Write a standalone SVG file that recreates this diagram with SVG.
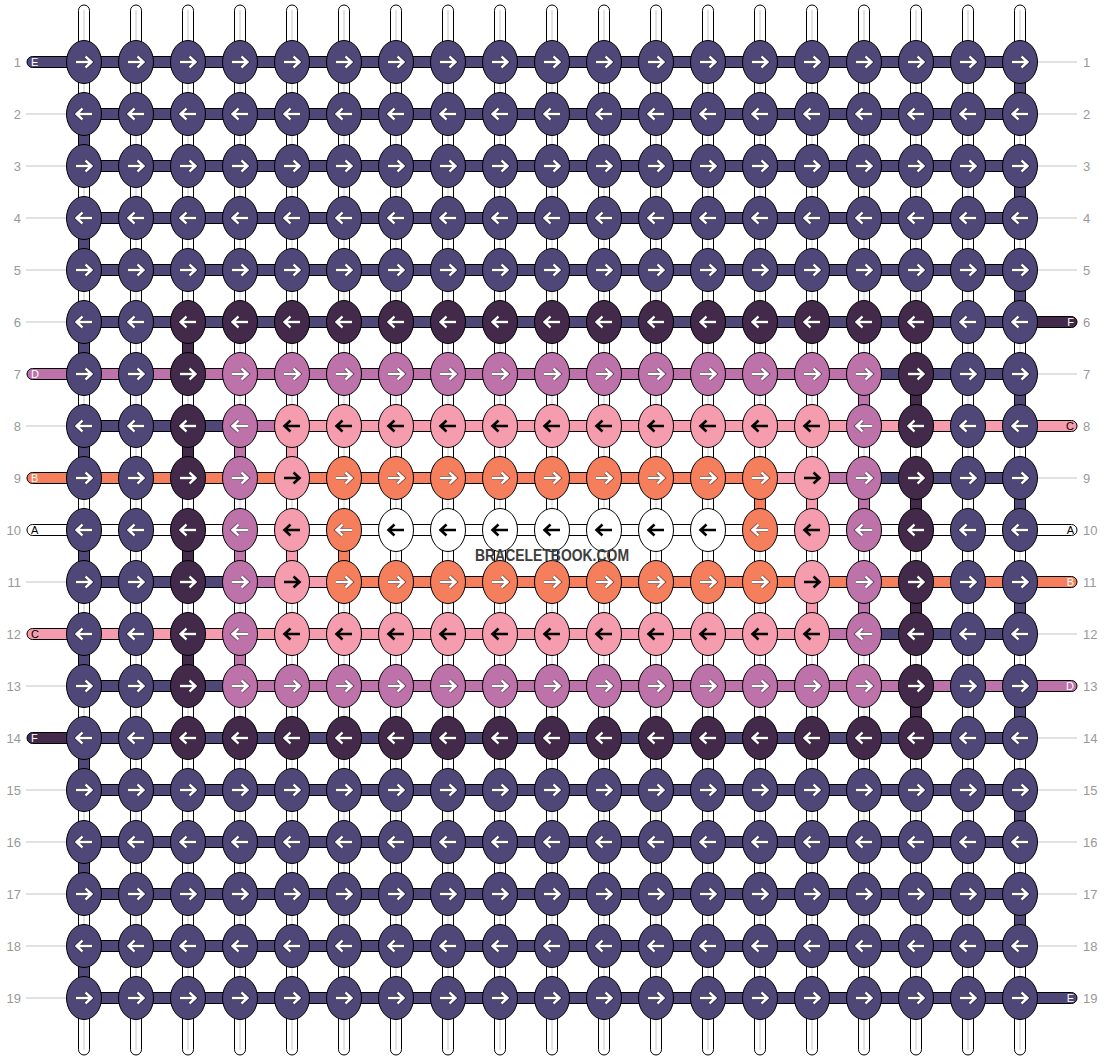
<svg xmlns="http://www.w3.org/2000/svg" xmlns:xlink="http://www.w3.org/1999/xlink" width="1104" height="1060" viewBox="0 0 1104 1060">
<style>
.bg{fill:#fff}
.st{fill:#fff;stroke:#000;stroke-width:1}
.cl{stroke:#c8c8c8;stroke-width:1}
.gl{stroke:#c4c4c4;stroke-width:1}
.b{stroke:#000;stroke-width:1}
.M{fill:#4f4778}.P{fill:#43294a}.V{fill:#bd72aa}.K{fill:#f59dae}.O{fill:#f57f5d}.W{fill:#fff}
.num{font-family:"Liberation Sans",Arial,sans-serif;font-size:13px;fill:#999}
.tl{font-family:"Liberation Sans",Arial,sans-serif;font-size:11px}
.tw{fill:#fff}.tb{fill:#000}
.wm{font-family:"Liberation Sans",Arial,sans-serif;font-size:16.5px;font-weight:bold;fill:#3d3d3d}
</style>
<defs>
<path id="pr" d="M-8,0H6.5M1.5,-5.5L7.5,0L1.5,5.5" fill="none"/>
<path id="pl" d="M8,0H-6.5M-1.5,-5.5L-7.5,0L-1.5,5.5" fill="none"/>
<g id="wr"><use href="#pr" stroke="#000" stroke-opacity=".45" stroke-width="4.2"/><use href="#pr" stroke="#fff" stroke-width="2.4"/></g>
<g id="wl"><use href="#pl" stroke="#000" stroke-opacity=".45" stroke-width="4.2"/><use href="#pl" stroke="#fff" stroke-width="2.4"/></g>
<g id="br"><use href="#pr" stroke="#000" stroke-width="2.6"/></g>
<g id="bl"><use href="#pl" stroke="#000" stroke-width="2.6"/></g>
<g id="MR"><ellipse rx="17.5" ry="21.5" fill="#4f4778" stroke="#000"/><use href="#wr"/></g>
<g id="ML"><ellipse rx="17.5" ry="21.5" fill="#4f4778" stroke="#000"/><use href="#wl"/></g>
<g id="PR"><ellipse rx="17.5" ry="21.5" fill="#43294a" stroke="#000"/><use href="#wr"/></g>
<g id="PL"><ellipse rx="17.5" ry="21.5" fill="#43294a" stroke="#000"/><use href="#wl"/></g>
<g id="VR"><ellipse rx="17.5" ry="21.5" fill="#bd72aa" stroke="#000"/><use href="#wr"/></g>
<g id="VL"><ellipse rx="17.5" ry="21.5" fill="#bd72aa" stroke="#000"/><use href="#wl"/></g>
<g id="KR"><ellipse rx="17.5" ry="21.5" fill="#f59dae" stroke="#000"/><use href="#br"/></g>
<g id="KL"><ellipse rx="17.5" ry="21.5" fill="#f59dae" stroke="#000"/><use href="#bl"/></g>
<g id="OR"><ellipse rx="17.5" ry="21.5" fill="#f57f5d" stroke="#000"/><use href="#wr"/></g>
<g id="OL"><ellipse rx="17.5" ry="21.5" fill="#f57f5d" stroke="#000"/><use href="#wl"/></g>
<g id="WL"><ellipse rx="17.5" ry="21.5" fill="#fff" stroke="#000"/><use href="#bl"/></g>
</defs>
<rect class="bg" x="0" y="0" width="1104" height="1060"/>

<g id="labels">
<g class="gl">
<line x1="26" y1="114" x2="67" y2="114"/><line x1="26" y1="166" x2="67" y2="166"/><line x1="26" y1="218" x2="67" y2="218"/><line x1="26" y1="270" x2="67" y2="270"/><line x1="26" y1="322" x2="67" y2="322"/><line x1="26" y1="426" x2="67" y2="426"/><line x1="26" y1="582" x2="67" y2="582"/><line x1="26" y1="686" x2="67" y2="686"/><line x1="26" y1="790" x2="67" y2="790"/><line x1="26" y1="842" x2="67" y2="842"/><line x1="26" y1="894" x2="67" y2="894"/><line x1="26" y1="946" x2="67" y2="946"/><line x1="26" y1="998" x2="67" y2="998"/>
<line x1="1037" y1="62" x2="1077" y2="62"/><line x1="1037" y1="114" x2="1077" y2="114"/><line x1="1037" y1="166" x2="1077" y2="166"/><line x1="1037" y1="218" x2="1077" y2="218"/><line x1="1037" y1="270" x2="1077" y2="270"/><line x1="1037" y1="374" x2="1077" y2="374"/><line x1="1037" y1="478" x2="1077" y2="478"/><line x1="1037" y1="634" x2="1077" y2="634"/><line x1="1037" y1="738" x2="1077" y2="738"/><line x1="1037" y1="790" x2="1077" y2="790"/><line x1="1037" y1="842" x2="1077" y2="842"/><line x1="1037" y1="894" x2="1077" y2="894"/><line x1="1037" y1="946" x2="1077" y2="946"/>
</g>
<g class="num" text-anchor="end">
<text x="21" y="66.5">1</text><text x="21" y="118.5">2</text><text x="21" y="170.5">3</text><text x="21" y="222.5">4</text><text x="21" y="274.5">5</text><text x="21" y="326.5">6</text><text x="21" y="378.5">7</text><text x="21" y="430.5">8</text><text x="21" y="482.5">9</text><text x="21" y="534.5">10</text><text x="21" y="586.5">11</text><text x="21" y="638.5">12</text><text x="21" y="690.5">13</text><text x="21" y="742.5">14</text><text x="21" y="794.5">15</text><text x="21" y="846.5">16</text><text x="21" y="898.5">17</text><text x="21" y="950.5">18</text><text x="21" y="1002.5">19</text>
</g>
<g class="num">
<text x="1083" y="66.5">1</text><text x="1083" y="118.5">2</text><text x="1083" y="170.5">3</text><text x="1083" y="222.5">4</text><text x="1083" y="274.5">5</text><text x="1083" y="326.5">6</text><text x="1083" y="378.5">7</text><text x="1083" y="430.5">8</text><text x="1083" y="482.5">9</text><text x="1083" y="534.5">10</text><text x="1083" y="586.5">11</text><text x="1083" y="638.5">12</text><text x="1083" y="690.5">13</text><text x="1083" y="742.5">14</text><text x="1083" y="794.5">15</text><text x="1083" y="846.5">16</text><text x="1083" y="898.5">17</text><text x="1083" y="950.5">18</text><text x="1083" y="1002.5">19</text>
</g>
</g>

<g id="connectors">
<g id="base-strings">
<rect class="st" x="78.5" y="5" width="11" height="1050" rx="5.5"/><rect class="st" x="130.5" y="5" width="11" height="1050" rx="5.5"/><rect class="st" x="182.5" y="5" width="11" height="1050" rx="5.5"/><rect class="st" x="234.5" y="5" width="11" height="1050" rx="5.5"/><rect class="st" x="286.5" y="5" width="11" height="1050" rx="5.5"/><rect class="st" x="338.5" y="5" width="11" height="1050" rx="5.5"/><rect class="st" x="390.5" y="5" width="11" height="1050" rx="5.5"/><rect class="st" x="442.5" y="5" width="11" height="1050" rx="5.5"/><rect class="st" x="494.5" y="5" width="11" height="1050" rx="5.5"/><rect class="st" x="546.5" y="5" width="11" height="1050" rx="5.5"/><rect class="st" x="598.5" y="5" width="11" height="1050" rx="5.5"/><rect class="st" x="650.5" y="5" width="11" height="1050" rx="5.5"/><rect class="st" x="702.5" y="5" width="11" height="1050" rx="5.5"/><rect class="st" x="754.5" y="5" width="11" height="1050" rx="5.5"/><rect class="st" x="806.5" y="5" width="11" height="1050" rx="5.5"/><rect class="st" x="858.5" y="5" width="11" height="1050" rx="5.5"/><rect class="st" x="910.5" y="5" width="11" height="1050" rx="5.5"/><rect class="st" x="962.5" y="5" width="11" height="1050" rx="5.5"/><rect class="st" x="1014.5" y="5" width="11" height="1050" rx="5.5"/>
<g class="cl">
<line x1="84" y1="10" x2="84" y2="1050"/><line x1="136" y1="10" x2="136" y2="1050"/><line x1="188" y1="10" x2="188" y2="1050"/><line x1="240" y1="10" x2="240" y2="1050"/><line x1="292" y1="10" x2="292" y2="1050"/><line x1="344" y1="10" x2="344" y2="1050"/><line x1="396" y1="10" x2="396" y2="1050"/><line x1="448" y1="10" x2="448" y2="1050"/><line x1="500" y1="10" x2="500" y2="1050"/><line x1="552" y1="10" x2="552" y2="1050"/><line x1="604" y1="10" x2="604" y2="1050"/><line x1="656" y1="10" x2="656" y2="1050"/><line x1="708" y1="10" x2="708" y2="1050"/><line x1="760" y1="10" x2="760" y2="1050"/><line x1="812" y1="10" x2="812" y2="1050"/><line x1="864" y1="10" x2="864" y2="1050"/><line x1="916" y1="10" x2="916" y2="1050"/><line x1="968" y1="10" x2="968" y2="1050"/><line x1="1020" y1="10" x2="1020" y2="1050"/>
</g>
</g>
<g id="vertical-links" class="b">
<rect class="M" x="78.5" y="124" width="11" height="32"/><rect class="M" x="78.5" y="228" width="11" height="32"/><rect class="M" x="78.5" y="332" width="11" height="32"/><rect class="M" x="78.5" y="436" width="11" height="32"/><rect class="M" x="78.5" y="540" width="11" height="32"/><rect class="M" x="78.5" y="644" width="11" height="32"/><rect class="M" x="78.5" y="748" width="11" height="32"/><rect class="M" x="78.5" y="852" width="11" height="32"/><rect class="M" x="78.5" y="956" width="11" height="32"/>
<rect class="M" x="1014.5" y="72" width="11" height="32"/><rect class="M" x="1014.5" y="176" width="11" height="32"/><rect class="M" x="1014.5" y="280" width="11" height="32"/><rect class="M" x="1014.5" y="384" width="11" height="32"/><rect class="M" x="1014.5" y="488" width="11" height="32"/><rect class="M" x="1014.5" y="592" width="11" height="32"/><rect class="M" x="1014.5" y="696" width="11" height="32"/><rect class="M" x="1014.5" y="800" width="11" height="32"/><rect class="M" x="1014.5" y="904" width="11" height="32"/>
<rect class="P" x="182.5" y="332" width="11" height="32"/>
<rect class="V" x="858.5" y="384" width="11" height="32"/><rect class="P" x="910.5" y="384" width="11" height="32"/>
<rect class="P" x="182.5" y="436" width="11" height="32"/><rect class="V" x="234.5" y="436" width="11" height="32"/><rect class="K" x="286.5" y="436" width="11" height="32"/>
<rect class="O" x="754.5" y="488" width="11" height="32"/><rect class="K" x="806.5" y="488" width="11" height="32"/><rect class="V" x="858.5" y="488" width="11" height="32"/><rect class="P" x="910.5" y="488" width="11" height="32"/>
<rect class="P" x="182.5" y="540" width="11" height="32"/><rect class="V" x="234.5" y="540" width="11" height="32"/><rect class="K" x="286.5" y="540" width="11" height="32"/><rect class="O" x="338.5" y="540" width="11" height="32"/>
<rect class="K" x="806.5" y="592" width="11" height="32"/><rect class="V" x="858.5" y="592" width="11" height="32"/><rect class="P" x="910.5" y="592" width="11" height="32"/>
<rect class="P" x="182.5" y="644" width="11" height="32"/><rect class="V" x="234.5" y="644" width="11" height="32"/>
<rect class="P" x="910.5" y="696" width="11" height="32"/>
</g>
<g id="horizontal-links" class="b">
<rect class="M" x="27" y="56.5" width="993" height="11" rx="5.5"/>
<rect class="M" x="84" y="108.5" width="936" height="11" rx="5.5"/>
<rect class="M" x="84" y="160.5" width="936" height="11" rx="5.5"/>
<rect class="M" x="84" y="212.5" width="936" height="11" rx="5.5"/>
<rect class="M" x="84" y="264.5" width="936" height="11" rx="5.5"/>
<rect class="P" x="1000" y="316.5" width="77" height="11" rx="5.5"/><rect class="M" x="84" y="316.5" width="936" height="11" rx="5.5"/>
<rect class="V" x="27" y="368.5" width="837" height="11" rx="5.5"/><rect class="M" x="864" y="368.5" width="156" height="11" rx="5.5"/>
<rect class="M" x="84" y="420.5" width="156" height="11" rx="5.5"/><rect class="V" x="240" y="420.5" width="52" height="11" rx="5.5"/><rect class="K" x="292" y="420.5" width="785" height="11" rx="5.5"/>
<rect class="O" x="27" y="472.5" width="733" height="11" rx="5.5"/><rect class="K" x="760" y="472.5" width="52" height="11" rx="5.5"/><rect class="V" x="812" y="472.5" width="52" height="11" rx="5.5"/><rect class="M" x="864" y="472.5" width="156" height="11" rx="5.5"/>
<rect class="W" x="27" y="524.5" width="1050" height="11" rx="5.5"/>
<rect class="M" x="84" y="576.5" width="156" height="11" rx="5.5"/><rect class="V" x="240" y="576.5" width="52" height="11" rx="5.5"/><rect class="K" x="292" y="576.5" width="52" height="11" rx="5.5"/><rect class="O" x="344" y="576.5" width="733" height="11" rx="5.5"/>
<rect class="K" x="27" y="628.5" width="785" height="11" rx="5.5"/><rect class="V" x="812" y="628.5" width="52" height="11" rx="5.5"/><rect class="M" x="864" y="628.5" width="156" height="11" rx="5.5"/>
<rect class="M" x="84" y="680.5" width="156" height="11" rx="5.5"/><rect class="V" x="240" y="680.5" width="837" height="11" rx="5.5"/>
<rect class="P" x="27" y="732.5" width="77" height="11" rx="5.5"/><rect class="M" x="84" y="732.5" width="936" height="11" rx="5.5"/>
<rect class="M" x="84" y="784.5" width="936" height="11" rx="5.5"/>
<rect class="M" x="84" y="836.5" width="936" height="11" rx="5.5"/>
<rect class="M" x="84" y="888.5" width="936" height="11" rx="5.5"/>
<rect class="M" x="84" y="940.5" width="936" height="11" rx="5.5"/>
<rect class="M" x="84" y="992.5" width="993" height="11" rx="5.5"/>
</g>
<g id="tail-labels" class="tl">
<text class="tw" x="31" y="66">E</text><text class="tw" x="31" y="378">D</text><text class="tw" x="31" y="482">B</text><text class="tb" x="31" y="534">A</text><text class="tb" x="31" y="638">C</text><text class="tw" x="31" y="742">F</text>
<g text-anchor="end"><text class="tw" x="1074" y="326">F</text><text class="tb" x="1074" y="430">C</text><text class="tb" x="1074" y="534">A</text><text class="tw" x="1074" y="586">B</text><text class="tw" x="1074" y="690">D</text><text class="tw" x="1074" y="1002">E</text></g>
</g>
</g>

<g id="knots">
<g id="k1-1"><use href="#MR" x="84" y="62"/></g><g id="k1-2"><use href="#MR" x="136" y="62"/></g><g id="k1-3"><use href="#MR" x="188" y="62"/></g><g id="k1-4"><use href="#MR" x="240" y="62"/></g><g id="k1-5"><use href="#MR" x="292" y="62"/></g><g id="k1-6"><use href="#MR" x="344" y="62"/></g><g id="k1-7"><use href="#MR" x="396" y="62"/></g><g id="k1-8"><use href="#MR" x="448" y="62"/></g><g id="k1-9"><use href="#MR" x="500" y="62"/></g><g id="k1-10"><use href="#MR" x="552" y="62"/></g><g id="k1-11"><use href="#MR" x="604" y="62"/></g><g id="k1-12"><use href="#MR" x="656" y="62"/></g><g id="k1-13"><use href="#MR" x="708" y="62"/></g><g id="k1-14"><use href="#MR" x="760" y="62"/></g><g id="k1-15"><use href="#MR" x="812" y="62"/></g><g id="k1-16"><use href="#MR" x="864" y="62"/></g><g id="k1-17"><use href="#MR" x="916" y="62"/></g><g id="k1-18"><use href="#MR" x="968" y="62"/></g><g id="k1-19"><use href="#MR" x="1020" y="62"/></g>
<g id="k2-1"><use href="#ML" x="84" y="114"/></g><g id="k2-2"><use href="#ML" x="136" y="114"/></g><g id="k2-3"><use href="#ML" x="188" y="114"/></g><g id="k2-4"><use href="#ML" x="240" y="114"/></g><g id="k2-5"><use href="#ML" x="292" y="114"/></g><g id="k2-6"><use href="#ML" x="344" y="114"/></g><g id="k2-7"><use href="#ML" x="396" y="114"/></g><g id="k2-8"><use href="#ML" x="448" y="114"/></g><g id="k2-9"><use href="#ML" x="500" y="114"/></g><g id="k2-10"><use href="#ML" x="552" y="114"/></g><g id="k2-11"><use href="#ML" x="604" y="114"/></g><g id="k2-12"><use href="#ML" x="656" y="114"/></g><g id="k2-13"><use href="#ML" x="708" y="114"/></g><g id="k2-14"><use href="#ML" x="760" y="114"/></g><g id="k2-15"><use href="#ML" x="812" y="114"/></g><g id="k2-16"><use href="#ML" x="864" y="114"/></g><g id="k2-17"><use href="#ML" x="916" y="114"/></g><g id="k2-18"><use href="#ML" x="968" y="114"/></g><g id="k2-19"><use href="#ML" x="1020" y="114"/></g>
<g id="k3-1"><use href="#MR" x="84" y="166"/></g><g id="k3-2"><use href="#MR" x="136" y="166"/></g><g id="k3-3"><use href="#MR" x="188" y="166"/></g><g id="k3-4"><use href="#MR" x="240" y="166"/></g><g id="k3-5"><use href="#MR" x="292" y="166"/></g><g id="k3-6"><use href="#MR" x="344" y="166"/></g><g id="k3-7"><use href="#MR" x="396" y="166"/></g><g id="k3-8"><use href="#MR" x="448" y="166"/></g><g id="k3-9"><use href="#MR" x="500" y="166"/></g><g id="k3-10"><use href="#MR" x="552" y="166"/></g><g id="k3-11"><use href="#MR" x="604" y="166"/></g><g id="k3-12"><use href="#MR" x="656" y="166"/></g><g id="k3-13"><use href="#MR" x="708" y="166"/></g><g id="k3-14"><use href="#MR" x="760" y="166"/></g><g id="k3-15"><use href="#MR" x="812" y="166"/></g><g id="k3-16"><use href="#MR" x="864" y="166"/></g><g id="k3-17"><use href="#MR" x="916" y="166"/></g><g id="k3-18"><use href="#MR" x="968" y="166"/></g><g id="k3-19"><use href="#MR" x="1020" y="166"/></g>
<g id="k4-1"><use href="#ML" x="84" y="218"/></g><g id="k4-2"><use href="#ML" x="136" y="218"/></g><g id="k4-3"><use href="#ML" x="188" y="218"/></g><g id="k4-4"><use href="#ML" x="240" y="218"/></g><g id="k4-5"><use href="#ML" x="292" y="218"/></g><g id="k4-6"><use href="#ML" x="344" y="218"/></g><g id="k4-7"><use href="#ML" x="396" y="218"/></g><g id="k4-8"><use href="#ML" x="448" y="218"/></g><g id="k4-9"><use href="#ML" x="500" y="218"/></g><g id="k4-10"><use href="#ML" x="552" y="218"/></g><g id="k4-11"><use href="#ML" x="604" y="218"/></g><g id="k4-12"><use href="#ML" x="656" y="218"/></g><g id="k4-13"><use href="#ML" x="708" y="218"/></g><g id="k4-14"><use href="#ML" x="760" y="218"/></g><g id="k4-15"><use href="#ML" x="812" y="218"/></g><g id="k4-16"><use href="#ML" x="864" y="218"/></g><g id="k4-17"><use href="#ML" x="916" y="218"/></g><g id="k4-18"><use href="#ML" x="968" y="218"/></g><g id="k4-19"><use href="#ML" x="1020" y="218"/></g>
<g id="k5-1"><use href="#MR" x="84" y="270"/></g><g id="k5-2"><use href="#MR" x="136" y="270"/></g><g id="k5-3"><use href="#MR" x="188" y="270"/></g><g id="k5-4"><use href="#MR" x="240" y="270"/></g><g id="k5-5"><use href="#MR" x="292" y="270"/></g><g id="k5-6"><use href="#MR" x="344" y="270"/></g><g id="k5-7"><use href="#MR" x="396" y="270"/></g><g id="k5-8"><use href="#MR" x="448" y="270"/></g><g id="k5-9"><use href="#MR" x="500" y="270"/></g><g id="k5-10"><use href="#MR" x="552" y="270"/></g><g id="k5-11"><use href="#MR" x="604" y="270"/></g><g id="k5-12"><use href="#MR" x="656" y="270"/></g><g id="k5-13"><use href="#MR" x="708" y="270"/></g><g id="k5-14"><use href="#MR" x="760" y="270"/></g><g id="k5-15"><use href="#MR" x="812" y="270"/></g><g id="k5-16"><use href="#MR" x="864" y="270"/></g><g id="k5-17"><use href="#MR" x="916" y="270"/></g><g id="k5-18"><use href="#MR" x="968" y="270"/></g><g id="k5-19"><use href="#MR" x="1020" y="270"/></g>
<g id="k6-1"><use href="#ML" x="84" y="322"/></g><g id="k6-2"><use href="#ML" x="136" y="322"/></g><g id="k6-3"><use href="#PL" x="188" y="322"/></g><g id="k6-4"><use href="#PL" x="240" y="322"/></g><g id="k6-5"><use href="#PL" x="292" y="322"/></g><g id="k6-6"><use href="#PL" x="344" y="322"/></g><g id="k6-7"><use href="#PL" x="396" y="322"/></g><g id="k6-8"><use href="#PL" x="448" y="322"/></g><g id="k6-9"><use href="#PL" x="500" y="322"/></g><g id="k6-10"><use href="#PL" x="552" y="322"/></g><g id="k6-11"><use href="#PL" x="604" y="322"/></g><g id="k6-12"><use href="#PL" x="656" y="322"/></g><g id="k6-13"><use href="#PL" x="708" y="322"/></g><g id="k6-14"><use href="#PL" x="760" y="322"/></g><g id="k6-15"><use href="#PL" x="812" y="322"/></g><g id="k6-16"><use href="#PL" x="864" y="322"/></g><g id="k6-17"><use href="#PL" x="916" y="322"/></g><g id="k6-18"><use href="#ML" x="968" y="322"/></g><g id="k6-19"><use href="#ML" x="1020" y="322"/></g>
<g id="k7-1"><use href="#MR" x="84" y="374"/></g><g id="k7-2"><use href="#MR" x="136" y="374"/></g><g id="k7-3"><use href="#PR" x="188" y="374"/></g><g id="k7-4"><use href="#VR" x="240" y="374"/></g><g id="k7-5"><use href="#VR" x="292" y="374"/></g><g id="k7-6"><use href="#VR" x="344" y="374"/></g><g id="k7-7"><use href="#VR" x="396" y="374"/></g><g id="k7-8"><use href="#VR" x="448" y="374"/></g><g id="k7-9"><use href="#VR" x="500" y="374"/></g><g id="k7-10"><use href="#VR" x="552" y="374"/></g><g id="k7-11"><use href="#VR" x="604" y="374"/></g><g id="k7-12"><use href="#VR" x="656" y="374"/></g><g id="k7-13"><use href="#VR" x="708" y="374"/></g><g id="k7-14"><use href="#VR" x="760" y="374"/></g><g id="k7-15"><use href="#VR" x="812" y="374"/></g><g id="k7-16"><use href="#VR" x="864" y="374"/></g><g id="k7-17"><use href="#PR" x="916" y="374"/></g><g id="k7-18"><use href="#MR" x="968" y="374"/></g><g id="k7-19"><use href="#MR" x="1020" y="374"/></g>
<g id="k8-1"><use href="#ML" x="84" y="426"/></g><g id="k8-2"><use href="#ML" x="136" y="426"/></g><g id="k8-3"><use href="#PL" x="188" y="426"/></g><g id="k8-4"><use href="#VL" x="240" y="426"/></g><g id="k8-5"><use href="#KL" x="292" y="426"/></g><g id="k8-6"><use href="#KL" x="344" y="426"/></g><g id="k8-7"><use href="#KL" x="396" y="426"/></g><g id="k8-8"><use href="#KL" x="448" y="426"/></g><g id="k8-9"><use href="#KL" x="500" y="426"/></g><g id="k8-10"><use href="#KL" x="552" y="426"/></g><g id="k8-11"><use href="#KL" x="604" y="426"/></g><g id="k8-12"><use href="#KL" x="656" y="426"/></g><g id="k8-13"><use href="#KL" x="708" y="426"/></g><g id="k8-14"><use href="#KL" x="760" y="426"/></g><g id="k8-15"><use href="#KL" x="812" y="426"/></g><g id="k8-16"><use href="#VL" x="864" y="426"/></g><g id="k8-17"><use href="#PL" x="916" y="426"/></g><g id="k8-18"><use href="#ML" x="968" y="426"/></g><g id="k8-19"><use href="#ML" x="1020" y="426"/></g>
<g id="k9-1"><use href="#MR" x="84" y="478"/></g><g id="k9-2"><use href="#MR" x="136" y="478"/></g><g id="k9-3"><use href="#PR" x="188" y="478"/></g><g id="k9-4"><use href="#VR" x="240" y="478"/></g><g id="k9-5"><use href="#KR" x="292" y="478"/></g><g id="k9-6"><use href="#OR" x="344" y="478"/></g><g id="k9-7"><use href="#OR" x="396" y="478"/></g><g id="k9-8"><use href="#OR" x="448" y="478"/></g><g id="k9-9"><use href="#OR" x="500" y="478"/></g><g id="k9-10"><use href="#OR" x="552" y="478"/></g><g id="k9-11"><use href="#OR" x="604" y="478"/></g><g id="k9-12"><use href="#OR" x="656" y="478"/></g><g id="k9-13"><use href="#OR" x="708" y="478"/></g><g id="k9-14"><use href="#OR" x="760" y="478"/></g><g id="k9-15"><use href="#KR" x="812" y="478"/></g><g id="k9-16"><use href="#VR" x="864" y="478"/></g><g id="k9-17"><use href="#PR" x="916" y="478"/></g><g id="k9-18"><use href="#MR" x="968" y="478"/></g><g id="k9-19"><use href="#MR" x="1020" y="478"/></g>
<g id="k10-1"><use href="#ML" x="84" y="530"/></g><g id="k10-2"><use href="#ML" x="136" y="530"/></g><g id="k10-3"><use href="#PL" x="188" y="530"/></g><g id="k10-4"><use href="#VL" x="240" y="530"/></g><g id="k10-5"><use href="#KL" x="292" y="530"/></g><g id="k10-6"><use href="#OL" x="344" y="530"/></g><g id="k10-7"><use href="#WL" x="396" y="530"/></g><g id="k10-8"><use href="#WL" x="448" y="530"/></g><g id="k10-9"><use href="#WL" x="500" y="530"/></g><g id="k10-10"><use href="#WL" x="552" y="530"/></g><g id="k10-11"><use href="#WL" x="604" y="530"/></g><g id="k10-12"><use href="#WL" x="656" y="530"/></g><g id="k10-13"><use href="#WL" x="708" y="530"/></g><g id="k10-14"><use href="#OL" x="760" y="530"/></g><g id="k10-15"><use href="#KL" x="812" y="530"/></g><g id="k10-16"><use href="#VL" x="864" y="530"/></g><g id="k10-17"><use href="#PL" x="916" y="530"/></g><g id="k10-18"><use href="#ML" x="968" y="530"/></g><g id="k10-19"><use href="#ML" x="1020" y="530"/></g>
<g id="k11-1"><use href="#MR" x="84" y="582"/></g><g id="k11-2"><use href="#MR" x="136" y="582"/></g><g id="k11-3"><use href="#PR" x="188" y="582"/></g><g id="k11-4"><use href="#VR" x="240" y="582"/></g><g id="k11-5"><use href="#KR" x="292" y="582"/></g><g id="k11-6"><use href="#OR" x="344" y="582"/></g><g id="k11-7"><use href="#OR" x="396" y="582"/></g><g id="k11-8"><use href="#OR" x="448" y="582"/></g><g id="k11-9"><use href="#OR" x="500" y="582"/></g><g id="k11-10"><use href="#OR" x="552" y="582"/></g><g id="k11-11"><use href="#OR" x="604" y="582"/></g><g id="k11-12"><use href="#OR" x="656" y="582"/></g><g id="k11-13"><use href="#OR" x="708" y="582"/></g><g id="k11-14"><use href="#OR" x="760" y="582"/></g><g id="k11-15"><use href="#KR" x="812" y="582"/></g><g id="k11-16"><use href="#VR" x="864" y="582"/></g><g id="k11-17"><use href="#PR" x="916" y="582"/></g><g id="k11-18"><use href="#MR" x="968" y="582"/></g><g id="k11-19"><use href="#MR" x="1020" y="582"/></g>
<g id="k12-1"><use href="#ML" x="84" y="634"/></g><g id="k12-2"><use href="#ML" x="136" y="634"/></g><g id="k12-3"><use href="#PL" x="188" y="634"/></g><g id="k12-4"><use href="#VL" x="240" y="634"/></g><g id="k12-5"><use href="#KL" x="292" y="634"/></g><g id="k12-6"><use href="#KL" x="344" y="634"/></g><g id="k12-7"><use href="#KL" x="396" y="634"/></g><g id="k12-8"><use href="#KL" x="448" y="634"/></g><g id="k12-9"><use href="#KL" x="500" y="634"/></g><g id="k12-10"><use href="#KL" x="552" y="634"/></g><g id="k12-11"><use href="#KL" x="604" y="634"/></g><g id="k12-12"><use href="#KL" x="656" y="634"/></g><g id="k12-13"><use href="#KL" x="708" y="634"/></g><g id="k12-14"><use href="#KL" x="760" y="634"/></g><g id="k12-15"><use href="#KL" x="812" y="634"/></g><g id="k12-16"><use href="#VL" x="864" y="634"/></g><g id="k12-17"><use href="#PL" x="916" y="634"/></g><g id="k12-18"><use href="#ML" x="968" y="634"/></g><g id="k12-19"><use href="#ML" x="1020" y="634"/></g>
<g id="k13-1"><use href="#MR" x="84" y="686"/></g><g id="k13-2"><use href="#MR" x="136" y="686"/></g><g id="k13-3"><use href="#PR" x="188" y="686"/></g><g id="k13-4"><use href="#VR" x="240" y="686"/></g><g id="k13-5"><use href="#VR" x="292" y="686"/></g><g id="k13-6"><use href="#VR" x="344" y="686"/></g><g id="k13-7"><use href="#VR" x="396" y="686"/></g><g id="k13-8"><use href="#VR" x="448" y="686"/></g><g id="k13-9"><use href="#VR" x="500" y="686"/></g><g id="k13-10"><use href="#VR" x="552" y="686"/></g><g id="k13-11"><use href="#VR" x="604" y="686"/></g><g id="k13-12"><use href="#VR" x="656" y="686"/></g><g id="k13-13"><use href="#VR" x="708" y="686"/></g><g id="k13-14"><use href="#VR" x="760" y="686"/></g><g id="k13-15"><use href="#VR" x="812" y="686"/></g><g id="k13-16"><use href="#VR" x="864" y="686"/></g><g id="k13-17"><use href="#PR" x="916" y="686"/></g><g id="k13-18"><use href="#MR" x="968" y="686"/></g><g id="k13-19"><use href="#MR" x="1020" y="686"/></g>
<g id="k14-1"><use href="#ML" x="84" y="738"/></g><g id="k14-2"><use href="#ML" x="136" y="738"/></g><g id="k14-3"><use href="#PL" x="188" y="738"/></g><g id="k14-4"><use href="#PL" x="240" y="738"/></g><g id="k14-5"><use href="#PL" x="292" y="738"/></g><g id="k14-6"><use href="#PL" x="344" y="738"/></g><g id="k14-7"><use href="#PL" x="396" y="738"/></g><g id="k14-8"><use href="#PL" x="448" y="738"/></g><g id="k14-9"><use href="#PL" x="500" y="738"/></g><g id="k14-10"><use href="#PL" x="552" y="738"/></g><g id="k14-11"><use href="#PL" x="604" y="738"/></g><g id="k14-12"><use href="#PL" x="656" y="738"/></g><g id="k14-13"><use href="#PL" x="708" y="738"/></g><g id="k14-14"><use href="#PL" x="760" y="738"/></g><g id="k14-15"><use href="#PL" x="812" y="738"/></g><g id="k14-16"><use href="#PL" x="864" y="738"/></g><g id="k14-17"><use href="#PL" x="916" y="738"/></g><g id="k14-18"><use href="#ML" x="968" y="738"/></g><g id="k14-19"><use href="#ML" x="1020" y="738"/></g>
<g id="k15-1"><use href="#MR" x="84" y="790"/></g><g id="k15-2"><use href="#MR" x="136" y="790"/></g><g id="k15-3"><use href="#MR" x="188" y="790"/></g><g id="k15-4"><use href="#MR" x="240" y="790"/></g><g id="k15-5"><use href="#MR" x="292" y="790"/></g><g id="k15-6"><use href="#MR" x="344" y="790"/></g><g id="k15-7"><use href="#MR" x="396" y="790"/></g><g id="k15-8"><use href="#MR" x="448" y="790"/></g><g id="k15-9"><use href="#MR" x="500" y="790"/></g><g id="k15-10"><use href="#MR" x="552" y="790"/></g><g id="k15-11"><use href="#MR" x="604" y="790"/></g><g id="k15-12"><use href="#MR" x="656" y="790"/></g><g id="k15-13"><use href="#MR" x="708" y="790"/></g><g id="k15-14"><use href="#MR" x="760" y="790"/></g><g id="k15-15"><use href="#MR" x="812" y="790"/></g><g id="k15-16"><use href="#MR" x="864" y="790"/></g><g id="k15-17"><use href="#MR" x="916" y="790"/></g><g id="k15-18"><use href="#MR" x="968" y="790"/></g><g id="k15-19"><use href="#MR" x="1020" y="790"/></g>
<g id="k16-1"><use href="#ML" x="84" y="842"/></g><g id="k16-2"><use href="#ML" x="136" y="842"/></g><g id="k16-3"><use href="#ML" x="188" y="842"/></g><g id="k16-4"><use href="#ML" x="240" y="842"/></g><g id="k16-5"><use href="#ML" x="292" y="842"/></g><g id="k16-6"><use href="#ML" x="344" y="842"/></g><g id="k16-7"><use href="#ML" x="396" y="842"/></g><g id="k16-8"><use href="#ML" x="448" y="842"/></g><g id="k16-9"><use href="#ML" x="500" y="842"/></g><g id="k16-10"><use href="#ML" x="552" y="842"/></g><g id="k16-11"><use href="#ML" x="604" y="842"/></g><g id="k16-12"><use href="#ML" x="656" y="842"/></g><g id="k16-13"><use href="#ML" x="708" y="842"/></g><g id="k16-14"><use href="#ML" x="760" y="842"/></g><g id="k16-15"><use href="#ML" x="812" y="842"/></g><g id="k16-16"><use href="#ML" x="864" y="842"/></g><g id="k16-17"><use href="#ML" x="916" y="842"/></g><g id="k16-18"><use href="#ML" x="968" y="842"/></g><g id="k16-19"><use href="#ML" x="1020" y="842"/></g>
<g id="k17-1"><use href="#MR" x="84" y="894"/></g><g id="k17-2"><use href="#MR" x="136" y="894"/></g><g id="k17-3"><use href="#MR" x="188" y="894"/></g><g id="k17-4"><use href="#MR" x="240" y="894"/></g><g id="k17-5"><use href="#MR" x="292" y="894"/></g><g id="k17-6"><use href="#MR" x="344" y="894"/></g><g id="k17-7"><use href="#MR" x="396" y="894"/></g><g id="k17-8"><use href="#MR" x="448" y="894"/></g><g id="k17-9"><use href="#MR" x="500" y="894"/></g><g id="k17-10"><use href="#MR" x="552" y="894"/></g><g id="k17-11"><use href="#MR" x="604" y="894"/></g><g id="k17-12"><use href="#MR" x="656" y="894"/></g><g id="k17-13"><use href="#MR" x="708" y="894"/></g><g id="k17-14"><use href="#MR" x="760" y="894"/></g><g id="k17-15"><use href="#MR" x="812" y="894"/></g><g id="k17-16"><use href="#MR" x="864" y="894"/></g><g id="k17-17"><use href="#MR" x="916" y="894"/></g><g id="k17-18"><use href="#MR" x="968" y="894"/></g><g id="k17-19"><use href="#MR" x="1020" y="894"/></g>
<g id="k18-1"><use href="#ML" x="84" y="946"/></g><g id="k18-2"><use href="#ML" x="136" y="946"/></g><g id="k18-3"><use href="#ML" x="188" y="946"/></g><g id="k18-4"><use href="#ML" x="240" y="946"/></g><g id="k18-5"><use href="#ML" x="292" y="946"/></g><g id="k18-6"><use href="#ML" x="344" y="946"/></g><g id="k18-7"><use href="#ML" x="396" y="946"/></g><g id="k18-8"><use href="#ML" x="448" y="946"/></g><g id="k18-9"><use href="#ML" x="500" y="946"/></g><g id="k18-10"><use href="#ML" x="552" y="946"/></g><g id="k18-11"><use href="#ML" x="604" y="946"/></g><g id="k18-12"><use href="#ML" x="656" y="946"/></g><g id="k18-13"><use href="#ML" x="708" y="946"/></g><g id="k18-14"><use href="#ML" x="760" y="946"/></g><g id="k18-15"><use href="#ML" x="812" y="946"/></g><g id="k18-16"><use href="#ML" x="864" y="946"/></g><g id="k18-17"><use href="#ML" x="916" y="946"/></g><g id="k18-18"><use href="#ML" x="968" y="946"/></g><g id="k18-19"><use href="#ML" x="1020" y="946"/></g>
<g id="k19-1"><use href="#MR" x="84" y="998"/></g><g id="k19-2"><use href="#MR" x="136" y="998"/></g><g id="k19-3"><use href="#MR" x="188" y="998"/></g><g id="k19-4"><use href="#MR" x="240" y="998"/></g><g id="k19-5"><use href="#MR" x="292" y="998"/></g><g id="k19-6"><use href="#MR" x="344" y="998"/></g><g id="k19-7"><use href="#MR" x="396" y="998"/></g><g id="k19-8"><use href="#MR" x="448" y="998"/></g><g id="k19-9"><use href="#MR" x="500" y="998"/></g><g id="k19-10"><use href="#MR" x="552" y="998"/></g><g id="k19-11"><use href="#MR" x="604" y="998"/></g><g id="k19-12"><use href="#MR" x="656" y="998"/></g><g id="k19-13"><use href="#MR" x="708" y="998"/></g><g id="k19-14"><use href="#MR" x="760" y="998"/></g><g id="k19-15"><use href="#MR" x="812" y="998"/></g><g id="k19-16"><use href="#MR" x="864" y="998"/></g><g id="k19-17"><use href="#MR" x="916" y="998"/></g><g id="k19-18"><use href="#MR" x="968" y="998"/></g><g id="k19-19"><use href="#MR" x="1020" y="998"/></g>
</g>

<text class="wm" x="552" y="561" text-anchor="middle" textLength="154" lengthAdjust="spacingAndGlyphs">BRACELETBOOK.COM</text>
</svg>
